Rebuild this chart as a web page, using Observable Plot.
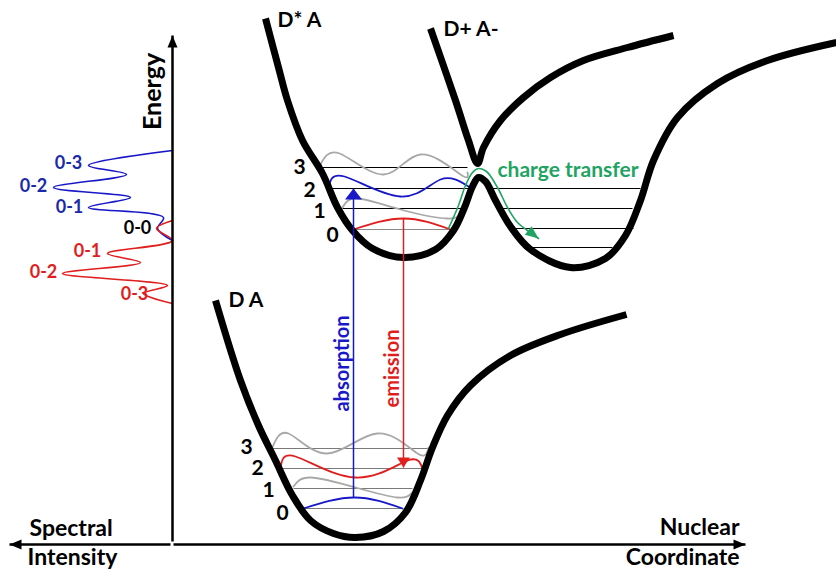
<!DOCTYPE html>
<html>
<head>
<meta charset="utf-8">
<script src="https://cdn.jsdelivr.net/npm/d3@7"></script>
<script src="https://cdn.jsdelivr.net/npm/@observablehq/plot@0.6"></script>
<style>
  body { margin: 0; background: #fff; }
  #chart svg { display: block; }
</style>
</head>
<body>
<div id="chart"></div>
<script>
// Schematic potential-energy diagram: ground state (D A), locally excited
// state (D* A) and charge-transfer state (D+ A-), with vibrational levels,
// vibronic wavefunctions, optical transitions and the resulting spectra.
// x = nuclear coordinate, y = energy (both in diagram units).

// Potential energy surfaces, [coordinate, energy]
const groundSurface = [
  [215, 271], [240, 191], [258, 146], [275, 111], [292, 76], [310, 51],
  [333, 38], [355, 34], [383, 40], [405, 59], [420, 91], [432, 124],
  [447, 156], [470, 186], [510, 216], [560, 237], [626, 257]
];
// lower adiabatic surface: D* A well, avoided crossing hump, D+ A- well
const lowerExcitedSurface = [
  [265, 553], [278, 504], [287, 471], [302, 431], [322, 398], [337, 364],
  [352, 341], [372, 323], [403, 314], [435, 322], [453, 341], [464, 364],
  [472, 385], [478, 394], [485, 390], [495, 371], [510, 345], [530, 322],
  [570, 304], [605, 313], [625, 336], [640, 371], [653, 411], [677, 454],
  [717, 488], [767, 511], [836, 529]
];
// upper adiabatic surface: D+ A- branch meeting the D* A branch
const upperExcitedSurface = [
  [430, 543], [455, 471], [468, 431], [477, 408], [483, 424], [500, 451],
  [523, 474], [550, 494], [583, 511], [627, 524], [673, 536]
];

// Vibrational levels: [energy, left turning point, right turning point]
const groundLevels = [[63, 303, 402], [83, 293, 412], [103, 280, 422], [123, 270, 429]];
const excitedLevelZero = [[342, 353, 450]];
const excitedLevels = [[363, 342, 462], [383, 327, 470], [404, 318, 467]];
const ctLevels = [[383, 488, 640], [363, 497, 632], [343, 508, 633], [324, 528, 612]];
const levelNumbers = ["0", "1", "2", "3"];
const groundLevelLabels = [[282, 58], [268, 81], [257, 103], [246, 124]];
const excitedLevelLabels = [[332, 336], [319, 360], [309, 381], [299, 404]];

// Vibronic wavefunctions drawn on their levels
const groundWave0 = [[303, 63], [354, 74], [402, 63]];
const groundWave1 = [[293, 85], [310, 94], [355, 84], [397, 74], [412, 79]];
const groundWave2 = [[280, 103], [295, 115], [355, 94], [407, 111], [422, 103]];
const groundWave3 = [[271, 122], [288, 138], [327, 118], [377, 138], [417, 118], [428, 124]];
const excitedWave0 = [[353, 342], [403, 353], [450, 342]];
const excitedWave1 = [[342, 364], [357, 373], [400, 362], [447, 353], [460, 359]];
const excitedWave2 = [[328, 383], [344, 395], [400, 375], [440, 392], [468, 385]];
const excitedWave3 = [[319, 405], [339, 418], [383, 397], [420, 417], [460, 397], [467, 399]];

// Vertical optical transitions
const absorption = {x: 353, from: 74, to: 383};
const emission = {x: 403, from: 353, to: 104};
// Charge-transfer pathway over the barrier
const chargeTransferPath = [
  [448, 343], [458, 366], [465, 386], [472, 399], [478, 403], [486, 400],
  [497, 384], [507, 364], [517, 349], [527, 341], [538, 333]
];

// Spectra drawn against the energy axis (intensity grows to the left)
const absorptionSpectrum = [
  [172, 421], [88, 406], [126, 397], [53, 384], [130, 374], [88, 364],
  [163, 354], [157, 343], [172, 331]
];
const emissionSpectrum = [
  [172, 351], [156, 343], [172, 331], [107, 318], [140, 309], [62, 298],
  [167, 286], [143, 278], [172, 268]
];
const absorptionPeaks = [["0-3", 68, 408], ["0-2", 33, 385], ["0-1", 69, 364]];
const zeroPhononPeak = [["0-0", 137, 343]];
const emissionPeaks = [["0-1", 87, 320], ["0-2", 43, 299], ["0-3", 134, 277]];

// Axes: energy (up), nuclear coordinate (right), spectral intensity (left)
const energyAxis = {x: 172, from: 30, to: 536};
const coordinateAxis = {y: 27, from: 173, to: 745};
const intensityAxis = {y: 27, from: 170, to: 9};

const stateLabels = [["D* A", 277, 551], ["D+ A-", 443, 542], ["D A", 228, 271]];

const BLUE = "#1818c8", RED = "#e01e1e", GREEN = "#1fa463", GRAY = "#a8a8a8";
const FONT = "Lato, 'Open Sans', sans-serif";

// filled triangular arrowhead whose tip sits on the dot position
function arrowhead(angle, length, width) {
  const a = angle * Math.PI / 180, dx = Math.cos(a), dy = Math.sin(a);
  const bx = -length * dx, by = -length * dy, px = -dy * width / 2, py = dx * width / 2;
  return {
    draw(ctx) {
      ctx.moveTo(0, 0);
      ctx.lineTo(bx + px, by + py);
      ctx.lineTo(bx - px, by - py);
      ctx.closePath();
    }
  };
}

const px = d => d[0], py = d => d[1];
const levelRule = (data, stroke, width) => Plot.link(data, {
  x1: d => d[1], x2: d => d[2], y1: d => d[0], y2: d => d[0], stroke, strokeWidth: width
});
const wave = (data, stroke) => Plot.line(data, {x: px, y: py, stroke, strokeWidth: 1.8, curve: "natural"});
const surface = data => Plot.line(data, {
  x: px, y: py, stroke: "black", strokeWidth: 7, curve: "catmull-rom",
  strokeLinecap: "butt", strokeLinejoin: "round"
});
const labelText = (data, fill, size, anchor = "middle") => Plot.text(data, {
  text: d => d[0], x: d => d[1], y: d => d[2], fill, fontSize: size,
  fontWeight: "bold", textAnchor: anchor, fontFamily: FONT
});
const levelText = positions => Plot.text(levelNumbers, {
  text: d => d, x: (d, i) => positions[i][0], y: (d, i) => positions[i][1],
  fontSize: 21, fontWeight: "bold", fontFamily: FONT, fill: "black"
});

const chart = Plot.plot({
  width: 836,
  height: 571,
  margin: 0,
  x: {domain: [0, 836], range: [0, 836], axis: null},
  y: {domain: [0, 571], range: [571, 0], axis: null},
  style: {background: "white"},
  marks: [
    // vibrational levels
    levelRule(groundLevels, "#7a7a7a", 1.2),
    levelRule(excitedLevelZero, "#8a8a8a", 1.2),
    levelRule(excitedLevels, "black", 1),
    levelRule(ctLevels, "black", 1),

    // wavefunctions
    wave(groundWave0, BLUE),
    wave(groundWave1, GRAY),
    wave(groundWave2, RED),
    wave(groundWave3, GRAY),
    wave(excitedWave0, RED),
    wave(excitedWave1, GRAY),
    wave(excitedWave2, BLUE),
    wave(excitedWave3, GRAY),

    // potential energy surfaces
    surface(groundSurface),
    surface(lowerExcitedSurface),
    surface(upperExcitedSurface),

    // absorption and emission
    Plot.link([absorption], {x1: "x", x2: "x", y1: "from", y2: "to", stroke: BLUE, strokeWidth: 1.5}),
    Plot.dot([absorption], {x: "x", y: "to", symbol: arrowhead(-90, 11, 17), fill: BLUE, stroke: "none"}),
    Plot.link([emission], {x1: "x", x2: "x", y1: "from", y2: "to", stroke: RED, strokeWidth: 1.5}),
    Plot.dot([emission], {x: "x", y: "to", symbol: arrowhead(90, 10, 13), fill: RED, stroke: "none"}),

    // charge transfer over the barrier
    Plot.line(chargeTransferPath, {x: px, y: py, stroke: GREEN, strokeWidth: 1.6, curve: "catmull-rom"}),
    Plot.dot(chargeTransferPath.slice(-1), {x: px, y: py, symbol: arrowhead(38, 13, 11), fill: GREEN, stroke: "none"}),

    // spectra
    Plot.line(absorptionSpectrum, {x: px, y: py, stroke: BLUE, strokeWidth: 1.6, curve: "catmull-rom"}),
    Plot.line(emissionSpectrum, {x: px, y: py, stroke: RED, strokeWidth: 1.6, curve: "catmull-rom"}),

    // axes
    Plot.link([energyAxis], {x1: "x", x2: "x", y1: "from", y2: "to", stroke: "black", strokeWidth: 2.5}),
    Plot.dot([energyAxis], {x: "x", y: "to", symbol: arrowhead(-90, 12, 10), fill: "black", stroke: "none"}),
    Plot.link([coordinateAxis], {x1: "from", x2: "to", y1: "y", y2: "y", stroke: "black", strokeWidth: 2.5}),
    Plot.dot([coordinateAxis], {x: "to", y: "y", symbol: arrowhead(0, 12, 10), fill: "black", stroke: "none"}),
    Plot.link([intensityAxis], {x1: "from", x2: "to", y1: "y", y2: "y", stroke: "black", strokeWidth: 2.5}),
    Plot.dot([intensityAxis], {x: "to", y: "y", symbol: arrowhead(180, 12, 10), fill: "black", stroke: "none"}),

    // texts
    labelText(stateLabels, "black", 21, "start"),
    levelText(groundLevelLabels),
    levelText(excitedLevelLabels),
    labelText(absorptionPeaks, "#1a2aa8", 18),
    labelText(zeroPhononPeak, "black", 18),
    labelText(emissionPeaks, RED, 18),
    labelText([["charge transfer", 497, 401]], GREEN, 21, "start"),
    Plot.text(["absorption"], {x: 342, y: 208, rotate: -90, fill: BLUE, fontSize: 20, fontWeight: "bold", fontFamily: FONT}),
    Plot.text(["emission"], {x: 392, y: 203, rotate: -90, fill: RED, fontSize: 20, fontWeight: "bold", fontFamily: FONT}),
    Plot.text(["Energy"], {x: 152, y: 480, rotate: -90, fill: "black", fontSize: 25, fontWeight: "bold", fontFamily: FONT}),
    labelText([["Spectral", 29, 43], ["Intensity", 27, 14]], "black", 23, "start"),
    labelText([["Nuclear", 739, 44], ["Coordinate", 739, 14]], "black", 23, "end")
  ]
});

document.getElementById("chart").append(chart);
</script>
</body>
</html>
